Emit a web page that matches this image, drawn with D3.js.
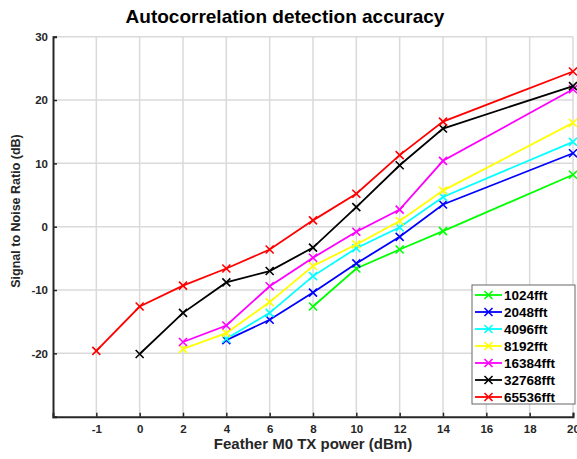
<!DOCTYPE html>
<html>
<head>
<meta charset="utf-8">
<script src="https://cdn.jsdelivr.net/npm/d3@7"></script>
<style>
  body { margin: 0; background: #fff; }
  svg { display: block; font-family: "Liberation Sans", Arial, sans-serif; }
</style>
</head>
<body>
<svg id="chart"></svg>
<script>
// x positions are categories: -1 sits one step left of 0
const xLabels = ["-1", "0", "2", "4", "6", "8", "10", "12", "14", "16", "18", "20"];
const yTicks = [-20, -10, 0, 10, 20, 30];

const seriesNames = ["1024fft", "2048fft", "4096fft", "8192fft", "16384fft", "32768fft", "65536fft"];
const seriesColors = ["#00ff00", "#0000ff", "#00ffff", "#ffff00", "#ff00ff", "#000000", "#ff0000"];

const fft1024 = [null, null, null, null, null, -12.6, -6.6, -3.6, -0.7, null, null, 8.2];
const fft2048 = [null, null, null, -17.9, -14.7, -10.4, -5.8, -1.6, 3.5, null, null, 11.6];
const fft4096 = [null, null, null, -17.7, -13.6, -7.8, -3.4, -0.1, 4.7, null, null, 13.4];
const fft8192 = [null, null, -19.3, -16.8, -11.9, -6.2, -2.8, 0.9, 5.7, null, null, 16.4];
const fft16384 = [null, null, -18.2, -15.6, -9.4, -4.9, -0.8, 2.7, 10.4, null, null, 21.7];
const fft32768 = [null, -20.1, -13.6, -8.8, -7.0, -3.3, 3.1, 9.7, 15.5, null, null, 22.2];
const fft65536 = [-19.6, -12.6, -9.3, -6.6, -3.6, 1.0, 5.2, 11.3, 16.6, null, null, 24.5];

const allSeries = [fft1024, fft2048, fft4096, fft8192, fft16384, fft32768, fft65536];

const w = 577;
const h = 459;
const padL = 53, padR = 573, padT = 36.7, padB = 416.7;

const svg = d3.select("#chart").attr("width", w).attr("height", h);

const xScale = d3.scaleLinear().domain([-1, xLabels.length - 1]).range([padL, padR]);
const yScale = d3.scaleLinear().domain([-30, 30]).range([padB, padT]);

// grid
const grid = svg.append("g").attr("stroke", "#dadada").attr("stroke-width", 1.5);
grid.selectAll("line.vg")
  .data(d3.range(xLabels.length))
  .enter().append("line")
  .attr("class", "vg")
  .attr("x1", d => xScale(d)).attr("x2", d => xScale(d))
  .attr("y1", padT).attr("y2", padB);
grid.selectAll("line.hg")
  .data(yTicks)
  .enter().append("line")
  .attr("class", "hg")
  .attr("x1", padL).attr("x2", padR)
  .attr("y1", d => yScale(d)).attr("y2", d => yScale(d));

// axes, MATLAB style inward ticks
const xAxis = d3.axisBottom(xScale)
  .tickValues(d3.range(xLabels.length))
  .tickFormat(i => xLabels[i])
  .tickSizeInner(-4).tickSizeOuter(-4).tickPadding(8);
const yAxis = d3.axisLeft(yScale)
  .tickValues([-30, ...yTicks])
  .tickFormat(d => d === -30 ? "" : d)
  .tickSizeInner(-4).tickSizeOuter(-4).tickPadding(5);

const gx = svg.append("g")
  .attr("transform", `translate(0, ${padB})`)
  .call(xAxis);
const gy = svg.append("g")
  .attr("transform", `translate(${padL}, 0)`)
  .call(yAxis);

[gx, gy].forEach(g => {
  g.select(".domain").attr("stroke", "#262626").attr("stroke-width", 2);
  g.selectAll(".tick line").attr("stroke", "#262626").attr("stroke-width", 1.5);
  g.selectAll(".tick text")
    .attr("fill", "#262626")
    .attr("font-size", 11.5)
    .attr("font-weight", "bold")
    .attr("font-family", "'Liberation Sans', Arial, sans-serif");
});

// series
const line = d3.line()
  .x(d => xScale(d.i))
  .y(d => yScale(d.v));

function crossPath(x, y, r) {
  return `M${x - r},${y - r}L${x + r},${y + r}M${x - r},${y + r}L${x + r},${y - r}`;
}

allSeries.forEach((vals, k) => {
  const pts = vals.map((v, i) => ({ i: i, v: v })).filter(d => d.v !== null);
  svg.append("path")
    .datum(pts)
    .attr("fill", "none")
    .attr("stroke", seriesColors[k])
    .attr("stroke-width", 1.8)
    .attr("d", line);
  svg.append("g").selectAll("path")
    .data(pts)
    .enter().append("path")
    .attr("stroke", seriesColors[k])
    .attr("stroke-width", 1.6)
    .attr("d", d => crossPath(xScale(d.i), yScale(d.v), 4));
});

// titles
svg.append("text")
  .attr("x", 285).attr("y", 23)
  .attr("text-anchor", "middle")
  .attr("font-size", 19)
  .attr("font-weight", "bold")
  .attr("fill", "#000")
  .text("Autocorrelation detection accuracy");

svg.append("text")
  .attr("x", 313).attr("y", 449)
  .attr("text-anchor", "middle")
  .attr("font-size", 15)
  .attr("font-weight", "bold")
  .attr("fill", "#262626")
  .text("Feather M0 TX power (dBm)");

svg.append("text")
  .attr("transform", "translate(20, 211) rotate(-90)")
  .attr("text-anchor", "middle")
  .attr("font-size", 12.5)
  .attr("font-weight", "bold")
  .attr("fill", "#262626")
  .text("Signal to Noise Ratio (dB)");

// legend
const legend = svg.append("g").attr("transform", "translate(472, 285)");
legend.append("rect")
  .attr("x", 0).attr("y", 0)
  .attr("width", 103).attr("height", 119)
  .attr("fill", "#fff")
  .attr("stroke", "#666")
  .attr("stroke-width", 1);

seriesNames.forEach((name, k) => {
  const cy = 10 + k * 17;
  legend.append("line")
    .attr("x1", 3).attr("x2", 30)
    .attr("y1", cy).attr("y2", cy)
    .attr("stroke", seriesColors[k]).attr("stroke-width", 1.8);
  legend.append("path")
    .attr("stroke", seriesColors[k]).attr("stroke-width", 1.6)
    .attr("d", crossPath(16.5, cy, 4));
  legend.append("text")
    .attr("x", 32).attr("y", cy + 5)
    .attr("font-size", 13.5)
    .attr("font-weight", "bold")
    .attr("fill", "#000")
    .text(name);
});
</script>
</body>
</html>
